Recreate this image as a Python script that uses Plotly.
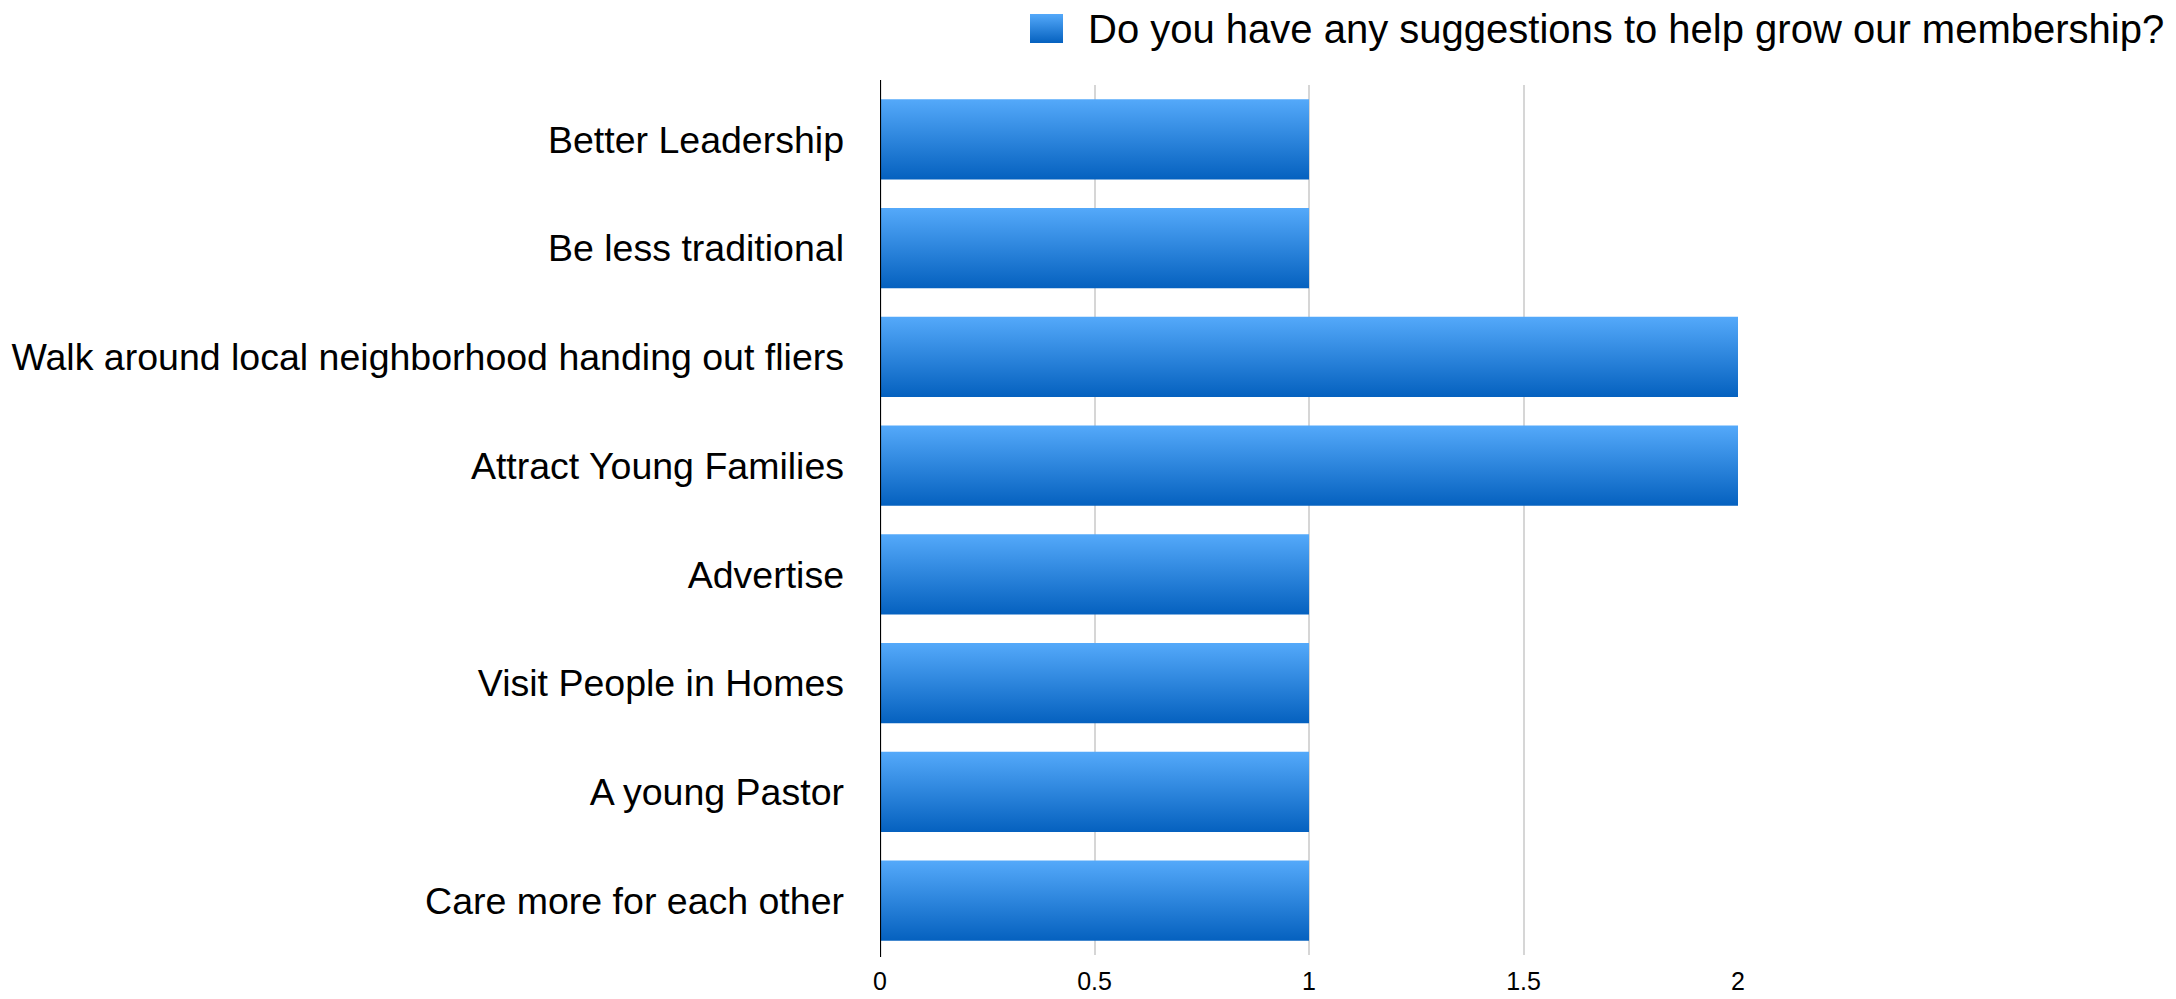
import base64
import plotly.graph_objects as go

# Survey answers (top to bottom) and how many people gave each one
categories = [
    "Better Leadership",
    "Be less traditional",
    "Walk around local neighborhood handing out fliers",
    "Attract Young Families",
    "Advertise",
    "Visit People in Homes",
    "A young Pastor",
    "Care more for each other",
]
counts = [1, 1, 2, 2, 1, 1, 1, 1]
series_name = "Do you have any suggestions to help grow our membership?"
x_ticks = [0, 0.5, 1, 1.5, 2]
x_tick_labels = ["0", "0.5", "1", "1.5", "2"]

W, H = 2176, 999
M_L, M_R, M_T, M_B = 880, 438, 85, 44
PLOT_W = W - M_L - M_R
PLOT_H = H - M_T - M_B

LIGHT = "#54a9fa"
DARK = "#0561bf"
FONT = "Liberation Sans, Arial, Helvetica, sans-serif"
HALF = 0.3685  # half of the bar thickness in category units

fig = go.Figure()

# Horizontal bars drawn as filled rectangles so each can carry a vertical gradient
for i, (cat, val) in enumerate(zip(categories, counts)):
    y0, y1 = i - HALF, i + HALF
    fig.add_trace(go.Scatter(
        x=[0, val, val, 0, 0],
        y=[y0, y0, y1, y1, y0],
        mode="none",
        fill="toself",
        fillgradient=dict(
            type="vertical",
            start=y0,
            stop=y1,
            colorscale=[[0, LIGHT], [1, DARK]],
        ),
        name=cat,
        text=f"{cat}: {val}",
        hoveron="fills",
        hoverinfo="text",
        showlegend=False,
    ))

# Left axis line
fig.add_shape(type="line", xref="x", yref="paper",
              x0=0, x1=0, y0=-2 / PLOT_H, y1=1 + 5 / PLOT_H,
              line=dict(color="#000000", width=2.2), layer="above")

# Legend swatch with the same gradient as the bars
svg = ('<svg xmlns="http://www.w3.org/2000/svg" width="33" height="29">'
       '<defs><linearGradient id="g" x1="0" y1="0" x2="0" y2="1">'
       f'<stop offset="0" stop-color="{LIGHT}"/><stop offset="1" stop-color="{DARK}"/>'
       '</linearGradient></defs><rect width="33" height="29" fill="url(#g)"/></svg>')
swatch = "data:image/svg+xml;base64," + base64.b64encode(svg.encode()).decode()
fig.add_layout_image(dict(
    source=swatch, xref="paper", yref="paper",
    x=(1030 - M_L) / PLOT_W, y=(H - M_B - 14) / PLOT_H,
    sizex=33 / PLOT_W, sizey=29 / PLOT_H,
    xanchor="left", yanchor="top", sizing="stretch", layer="above",
))
fig.add_annotation(
    text=series_name, xref="paper", yref="paper",
    x=(1086 - M_L) / PLOT_W, y=(H - M_B - 29) / PLOT_H,
    xanchor="left", yanchor="middle", showarrow=False,
    font=dict(family=FONT, size=40, color="#000000"),
)

fig.update_layout(
    width=W, height=H,
    margin=dict(l=M_L, r=M_R, t=M_T, b=M_B, pad=0, autoexpand=False),
    paper_bgcolor="white", plot_bgcolor="white",
    showlegend=False,
    font=dict(family=FONT, color="#000000"),
    xaxis=dict(
        range=[0, 2], tickvals=x_ticks, ticktext=x_tick_labels,
        showgrid=True, gridcolor="#d6d6d6", gridwidth=1.5,
        zeroline=False, showline=False, ticks="",
        tickfont=dict(family=FONT, size=25, color="#000000"),
        ticklabelstandoff=9, fixedrange=True, automargin=False,
    ),
    yaxis=dict(
        range=[len(categories) - 0.5, -0.5],
        tickvals=list(range(len(categories))), ticktext=categories,
        showgrid=False, zeroline=False, showline=False, ticks="",
        tickfont=dict(family=FONT, size=37.5, color="#000000"),
        ticklabelstandoff=35, fixedrange=True, automargin=False,
    ),
)

fig.write_html("out.html")
